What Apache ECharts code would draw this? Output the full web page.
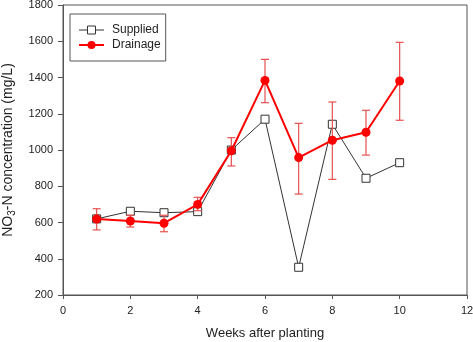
<!DOCTYPE html>
<html>
<head>
<meta charset="utf-8">
<script src="https://cdn.jsdelivr.net/npm/echarts@6/dist/echarts.min.js"></script>
<style>
  html, body { margin: 0; padding: 0; background: #fff; }
  #chart { width: 473px; height: 342px; }
</style>
</head>
<body>
<div id="chart"></div>
<script>
// Weeks after planting
const weeks = [1, 2, 3, 4, 5, 6, 7, 8, 9, 10];
// NO3-N concentration of supplied solution (mg/L)
const supplied = [620, 662, 654, 660, 1000, 1170, 353, 1142, 844, 930];
// NO3-N concentration of drainage (mg/L), mean and error-bar limits
const drainage = [619, 608, 596, 700, 996, 1384, 958, 1054, 1098, 1381];
const drainageLow = [559, 575, 549, 665, 912, 1261, 757, 838, 972, 1164];
const drainageHigh = [676, 640, 640, 739, 1068, 1500, 1147, 1265, 1219, 1594];

const xTicks = [0, 2, 4, 6, 8, 10, 12];
const yTicks = [200, 400, 600, 800, 1000, 1200, 1400, 1600, 1800];

const FONT = '"Liberation Sans", Arial, sans-serif';
const RED = '#ff0000';
const ERR = '#e85050';
const DARK = '#333333';
const AXIS = '#555555';

const chart = echarts.init(document.getElementById('chart'), null, { renderer: 'canvas' });

const errData = weeks.map((w, i) => [w, drainageLow[i], drainageHigh[i]]);

chart.setOption({
  animation: false,
  backgroundColor: '#fff',
  textStyle: { fontFamily: FONT },
  grid: {
    left: 63, right: 6, top: 5, bottom: 47,
    containLabel: false,
    outerBoundsMode: 'none',
    show: true, borderColor: AXIS, borderWidth: 1
  },
  legend: {
    left: 70, top: 14,
    orient: 'vertical',
    itemGap: 3,
    itemWidth: 25, itemHeight: 10,
    padding: [10, 5, 10, 8],
    borderColor: AXIS, borderWidth: 1, borderRadius: 0,
    textStyle: { fontFamily: FONT, fontSize: 12, color: '#222', padding: [0, 0, 0, 3] },
    data: [
      { name: 'Supplied', itemStyle: { color: '#fff', borderColor: DARK, borderWidth: 1 }, lineStyle: { color: DARK, width: 1 } },
      { name: 'Drainage' }
    ]
  },
  xAxis: {
    type: 'value',
    min: xTicks[0], max: xTicks[xTicks.length - 1], interval: 2,
    name: 'Weeks after planting',
    nameLocation: 'middle', nameGap: 32,
    nameTextStyle: { fontFamily: FONT, fontSize: 13, color: '#222' },
    axisLine: { lineStyle: { color: AXIS, width: 1 } },
    axisTick: { inside: false, length: 4, lineStyle: { color: AXIS } },
    axisLabel: { fontFamily: FONT, fontSize: 11, color: '#222', margin: 10 },
    splitLine: { show: false }
  },
  yAxis: {
    type: 'value',
    min: yTicks[0], max: yTicks[yTicks.length - 1], interval: 200,
    name: '{a|NO}{b|3}{a|-N concentration (mg/L)}',
    nameLocation: 'middle', nameGap: 46, nameRotate: 90,
    nameTextStyle: {
      rich: {
        a: { fontFamily: FONT, fontSize: 14, color: '#222' },
        b: { fontFamily: FONT, fontSize: 10, color: '#222', padding: [7, 0, 0, 0] }
      }
    },
    axisLine: { show: true, lineStyle: { color: AXIS, width: 1 } },
    axisTick: { show: true, inside: false, length: 5, lineStyle: { color: AXIS } },
    axisLabel: {
      fontFamily: FONT, fontSize: 11, color: '#222', margin: 10,
      formatter: v => String(v)
    },
    splitLine: { show: false }
  },
  series: [
    {
      name: 'Supplied',
      type: 'line',
      data: weeks.map((w, i) => [w, supplied[i]]),
      symbol: 'rect', symbolSize: 8,
      lineStyle: { color: DARK, width: 1 },
      itemStyle: { color: '#fff', borderColor: DARK, borderWidth: 1 },
      z: 2
    },
    {
      name: 'Drainage error',
      type: 'custom',
      data: errData,
      renderItem: function (params, api) {
        const x = api.value(0);
        const lo = api.coord([x, api.value(1)]);
        const hi = api.coord([x, api.value(2)]);
        const cap = 4;
        const style = { stroke: ERR, lineWidth: 1.2 };
        return {
          type: 'group',
          children: [
            { type: 'line', shape: { x1: lo[0], y1: lo[1], x2: hi[0], y2: hi[1] }, style: style },
            { type: 'line', shape: { x1: lo[0] - cap, y1: lo[1], x2: lo[0] + cap, y2: lo[1] }, style: style },
            { type: 'line', shape: { x1: hi[0] - cap, y1: hi[1], x2: hi[0] + cap, y2: hi[1] }, style: style }
          ]
        };
      },
      z: 3
    },
    {
      name: 'Drainage',
      type: 'line',
      data: weeks.map((w, i) => [w, drainage[i]]),
      symbol: 'circle', symbolSize: 9,
      lineStyle: { color: RED, width: 2 },
      itemStyle: { color: RED },
      z: 4
    }
  ]
});
</script>
</body>
</html>
